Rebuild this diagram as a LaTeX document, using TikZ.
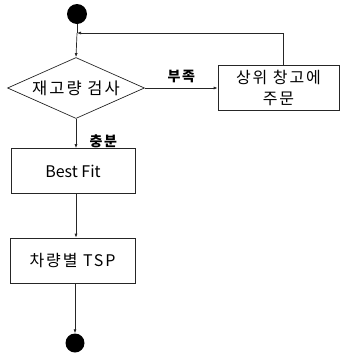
\documentclass[tikz,border=0pt]{standalone}
\usepackage{fontspec}
\setmainfont{Noto Sans CJK KR}
\newfontfamily\krsp[LetterSpace=12]{Noto Sans CJK KR}
\usetikzlibrary{shapes.geometric,arrows.meta}
\begin{document}
\begin{tikzpicture}[x=1pt,y=-1pt,
  line/.style={draw=black!85, line width=0.7pt},
  arr/.style={line, -{Latex[length=4pt,width=3pt]}},
  boxnode/.style={line, rectangle, minimum width=124pt, minimum height=45pt, inner sep=0pt, font=\krsp\fontsize{16}{19}\selectfont},
  dot/.style={circle, fill=black, minimum size=20pt, inner sep=0pt},
  lbl/.style={font=\krsp\fontsize{14}{16}\selectfont\bfseries}]
\useasboundingbox (0,0) rectangle (340,354);
\node[dot] (start) at (77,14) {};
\node[line, diamond, aspect=2.25, minimum width=137pt, minimum height=61pt, inner sep=0pt, font=\krsp\fontsize{16.5}{20}\selectfont] (check) at (76,88) {재고량 검사};
\node[boxnode, minimum width=121pt, align=center, font=\krsp\fontsize{16}{21}\selectfont] (order) at (278.5,88) {상위 창고에\\주문};
\node[boxnode, font=\fontsize{16}{19}\selectfont] (best) at (73,171) {Best Fit};
\node[boxnode, minimum width=125pt] (tsp) at (72.5,260.5) {차량별 TSP};
\node[dot, minimum size=19pt] (end) at (75,343) {};
\coordinate (join) at (77,33);
\draw[line] (start) -- (join);
\draw[arr] (join) -- (check.north);
\draw[arr] (check.east) -- node[lbl, above=1pt] {부족} (order.west);
\draw[arr] (order.north -| 283,0) |- (join);
\draw[arr] (check.south) -- node[lbl, right=10pt, pos=0.75] {충분} (best.north -| check.south);
\draw[arr] (best.south -| 76,0) -- (tsp.north -| 76,0);
\draw[arr] (tsp.south -| 75,0) -- (end.north);
\end{tikzpicture}
\end{document}
